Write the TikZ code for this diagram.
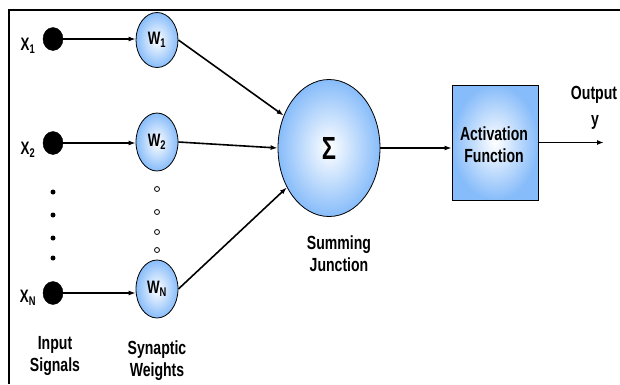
\documentclass[tikz,border=0pt]{standalone}
\usepackage{fontspec}
\setmainfont{Liberation Sans}[FakeStretch=0.74]
\usetikzlibrary{shapes.geometric,arrows.meta}
\definecolor{edgeblue}{RGB}{135,188,250}
\tikzset{
  bluefill/.style={draw=black, line width=0.8pt, shading=radial, inner color=white, outer color=edgeblue},
  wnode/.style={bluefill, ellipse, minimum width=42pt, minimum height=58pt, inner sep=0pt, font=\fontsize{18}{20}\selectfont\bfseries},
  inpdot/.style={ellipse, fill=black, draw=black, minimum width=20pt, minimum height=23pt, inner sep=0pt},
  smalldot/.style={circle, fill=black, minimum size=5pt, inner sep=0pt},
  opendot/.style={circle, draw=black, line width=0.8pt, minimum size=5pt, inner sep=0pt},
  lbl/.style={font=\fontsize{19}{22}\selectfont\bfseries, align=center, inner sep=0pt},
  xlbl/.style={font=\fontsize{18}{20}\selectfont\bfseries, inner sep=0pt},
  conn/.style={line width=1.6pt, -{Latex[length=7pt,width=5pt]}},
}
\begin{document}
\begin{tikzpicture}[x=1pt,y=-1pt]
\useasboundingbox (0,0) rectangle (620,384);
% frame
\draw[line width=2pt] (9,384) -- (9,9.5) -- (620,9.5);
% input dots
\node[inpdot] (d1) at (53,39) {};
\node[inpdot] (d2) at (53,143) {};
\node[inpdot] (dN) at (53,293) {};
\node[smalldot] (s1) at (53,192) {};
\node[smalldot] (s2) at (53,215) {};
\node[smalldot] (s3) at (53,238) {};
\node[smalldot] (s4) at (53,258) {};
% input labels
\node[xlbl] (x1) at (28,46) {X\textsubscript{1}};
\node[xlbl] (x2) at (28,150) {X\textsubscript{2}};
\node[xlbl] (xN) at (28,298) {X\textsubscript{N}};
% weights
\node[wnode, minimum height=55pt] (w1) at (157,40) {W\textsubscript{1}};
\node[wnode] (w2) at (157,142) {W\textsubscript{2}};
\node[wnode] (wN) at (157,289) {W\textsubscript{N}};
\node[opendot] (o1) at (157,189) {};
\node[opendot] (o2) at (157,212) {};
\node[opendot] (o3) at (157,232) {};
\node[opendot] (o4) at (157,250) {};
% summing junction
\node[bluefill, ellipse, minimum width=102pt, minimum height=137pt, inner sep=0pt, font=\fontsize{32}{34}\selectfont\bfseries] (sum) at (329,148) {Σ};
% activation
\node[bluefill, rectangle, minimum width=86pt, minimum height=115pt, inner sep=0pt] (act) at (495,142.5) {};
\node[lbl] (actt) at (494,145) {Activation\\Function};
% labels
\node[lbl] (inl) at (55,356) {Input\\Signals};
\node[lbl] (wl) at (157,361) {Synaptic\\Weights};
\node[lbl] (sl) at (339,254) {Summing\\Junction};
\node[lbl] (outl) at (594,95) {Output};
\node[lbl] (yl) at (595,122) {y};
% connectors
\draw[conn] (d1) -- (w1.west |- d1);
\draw[conn] (d2) -- (w2.west |- d2);
\draw[conn] (dN) -- (wN.west |- dN);
\draw[conn] (w1.east) -- (sum);
\draw[conn] (w2.east) -- (sum.west);
\draw[conn] (wN.east) -- (sum);
\draw[conn] (sum.east) -- (sum.east -| act.west);
\coordinate (out) at (604,142.5);
\draw[conn] (act.east) -- (out);
\end{tikzpicture}
\end{document}
